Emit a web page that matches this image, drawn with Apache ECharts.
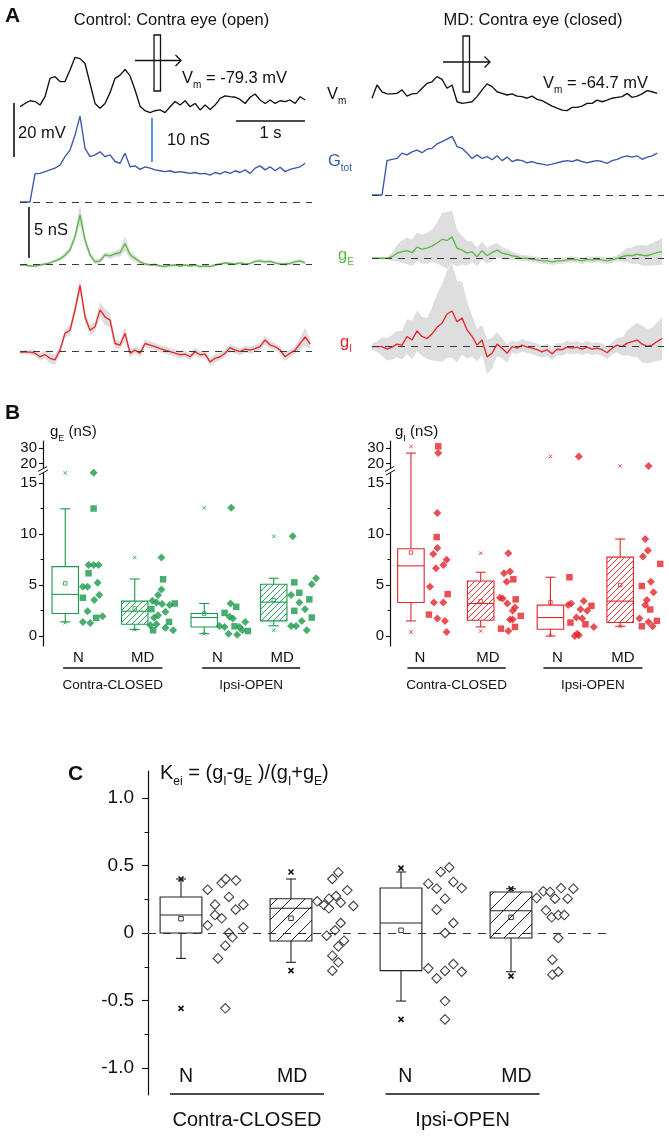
<!DOCTYPE html>
<html><head><meta charset="utf-8">
<script src="https://cdn.jsdelivr.net/npm/echarts@6.0.0/dist/echarts.min.js"></script>
<style>html,body{margin:0;padding:0;background:#fff;}#chart{width:669px;height:1136px;}</style>
</head><body><div id="chart"></div>
<script>
// ================= DATA =================
// Panel A traces, one sample every DT seconds
const DT = 0.0725;
// Control (contra eye open)
const vmControl = [0,1.2,2.2,1.9,0.6,3.7,10.5,11.1,9.3,9.3,13.6,18.3,17.8,16,8.6,1.2,-0.6,1.2,5.2,10.5,11.7,13.8,11.4,6.2,0.2,-1.5,-2.2,-1.5,-1.2,-2.2,0,1.9,0.6,2.2,0,1.2,-1.2,0.6,-1,0.6,3.1,4,3.7,3.5,2.7,1.2,3.5,4.7,2.5,1.2,2.5,1.2,2.2,1.9,2.5,1.2,3.7,2.5];
const gtotControl = [0,0,0,6.4,6.5,6.9,7.3,7.7,8.4,10.3,11.8,15.2,19.5,12.2,10.3,10.7,11.4,10.3,10.7,9.2,8.8,11.1,8.0,8.2,7.4,8.0,7.7,7.3,7.1,6.9,7.1,6.7,6.9,6.7,6.5,6.7,6.4,6.5,6.1,6.7,6.4,6.9,6.5,7.1,6.7,7.3,6.5,7.7,8.2,7.3,8.0,7.1,7.9,6.9,7.4,7.7,8.0,8.8];
const gEControl = [-0.1,-0.1,-0.2,-0.2,-0.1,0,0.1,0.3,0.5,0.85,1.4,2.7,4.8,2.35,0.9,0.2,0.3,0.9,0.8,1.0,1.1,2.0,0.9,0.55,0.2,0,-0.1,-0.05,-0.2,-0.25,-0.15,-0.1,-0.2,-0.1,-0.2,-0.1,-0.25,-0.2,-0.25,-0.1,0,0.1,0.05,0,0.1,0,0.05,0.25,0.3,0.2,0.25,0.1,0,0,0.05,0.2,0.3,0.1];
const gEControlSD = [0.1,0.1,0.1,0.1,0.1,0.1,0.15,0.15,0.2,0.25,0.3,0.45,1.0,0.6,0.3,0.25,0.25,0.25,0.3,0.3,0.4,0.7,0.4,0.3,0.2,0.12,0.12,0.12,0.12,0.12,0.12,0.12,0.12,0.12,0.12,0.12,0.12,0.12,0.12,0.12,0.12,0.12,0.12,0.12,0.12,0.12,0.12,0.15,0.18,0.18,0.18,0.15,0.15,0.15,0.15,0.18,0.18,0.15];
const gIControl = [-0.05,-0.05,-0.05,-0.15,-0.5,-0.3,-0.65,-0.8,0.15,1.8,2.1,4.1,6.5,3.4,2.1,2.45,4.1,3.4,3.1,0.8,0.65,1.8,-0.15,0.15,-0.15,0.8,0.65,0.5,0.3,0.15,0,-0.15,-0.3,-0.25,-0.5,0,-0.3,-0.25,-1.0,-0.65,-0.5,-0.15,0.4,0.15,0,0.25,0.15,0.3,0.5,1.15,0.65,0.5,0.15,-0.5,-0.15,0.15,0.8,1.45,0.75];
const gIControlSD = [0.15,0.2,0.25,0.3,0.4,0.4,0.5,0.5,0.4,0.4,0.5,0.6,0.7,0.6,0.5,0.5,0.8,0.8,0.7,0.5,0.4,0.7,0.4,0.35,0.35,0.4,0.35,0.35,0.35,0.35,0.35,0.35,0.35,0.35,0.35,0.4,0.35,0.35,0.4,0.4,0.35,0.35,0.35,0.35,0.35,0.35,0.35,0.35,0.35,0.45,0.35,0.35,0.35,0.45,0.35,0.35,0.6,0.9,0.5];
// MD (contra eye closed)
const vmMD = [-1.2,3.7,1.2,0.4,0.4,0.6,1.9,-0.4,0.4,0.6,2.5,4.3,4.9,6.8,5.8,2.5,3.7,-2.5,-3.1,-2.8,-2.5,-0.6,1.9,4.1,3.1,1.2,0.6,0,0.4,-0.4,-0.6,-1.2,-0.4,-1.6,-2.1,-3.1,-4.1,-4.9,-5.6,-5.8,-4.6,-4.6,-4.1,-3.1,-3.1,-1.9,-2.5,-1.9,-1.2,-0.9,-0.6,0.6,-0.9,-0.4,0.4,1.6,1.2,0.6];
const gtotMD = [0,0,0,7.8,8.1,8.3,9.5,9.1,9.8,10.2,9.6,10.4,10.6,11.6,12.1,12.7,13.3,11.0,10.6,9.5,8.3,9.1,8.3,8.7,8.0,8.9,7.8,8.6,7.6,8.0,7.8,7.3,7.6,7.2,7.0,6.8,7.0,7.3,7.6,7.8,7.6,8.0,7.6,7.3,7.6,7.8,7.6,7.2,7.8,8.1,8.6,8.9,8.6,8.9,8.1,8.6,8.9,9.5];
const gEMD = [0,0,0,0,0.15,0.5,0.65,0.75,0.55,1.1,0.9,1.0,1.2,1.5,1.85,1.75,2.1,1.0,0.8,0.5,0.65,0.15,0.75,0.25,0.55,0.8,0.5,0.4,0.25,0.15,0,0,-0.1,-0.15,-0.25,-0.25,-0.35,-0.25,-0.25,-0.15,-0.1,-0.15,-0.25,-0.1,-0.15,-0.1,-0.15,-0.25,-0.15,0,0.15,0.3,0.25,0.4,0.3,0.25,0.4,0.55,0.65];
const gEMDSD = [0.1,0.1,0.1,0.1,0.4,0.8,1.1,1.3,1.3,1.4,1.4,1.5,1.6,2.0,2.6,2.8,2.6,1.8,1.4,1.2,1.0,0.9,0.9,0.8,0.8,0.7,0.6,0.5,0.4,0.35,0.3,0.3,0.3,0.3,0.3,0.3,0.3,0.3,0.3,0.3,0.3,0.3,0.3,0.3,0.3,0.3,0.3,0.3,0.3,0.3,0.5,0.7,0.8,0.9,1.0,1.0,1.1,1.2,1.3];
const gIMD = [0,0,0,-0.25,-0.05,0.25,0.15,1.0,0.65,1.55,1.0,0.8,1.25,1.9,2.3,3.2,3.5,2.45,2.8,1.65,1.0,0.15,0.65,-1.0,-0.65,0.25,-0.15,-0.65,0,-0.15,0.15,-0.05,-0.15,-0.3,-0.5,-0.3,-0.7,-0.25,-0.3,-0.05,-0.15,-0.05,-0.25,-0.05,-0.25,-0.15,-0.3,-0.6,-0.15,0.15,0,0.35,0.5,0.65,0.25,0.05,0.15,0.5,0.8];
const gIMDSD = [0.3,0.5,0.9,1.1,1.2,1.3,1.4,1.7,1.9,2.0,1.9,2.0,2.6,3.3,3.8,4.3,4.6,4.0,3.6,2.8,2.0,1.6,1.5,1.7,1.5,1.2,1.0,0.9,0.6,0.6,0.6,0.6,0.6,0.6,0.6,0.6,0.6,0.6,0.6,0.6,0.6,0.6,0.6,0.6,0.6,0.6,0.6,0.6,0.6,0.7,0.9,1.2,1.5,1.7,1.8,1.7,1.7,1.9,2.1];

// Panel B / C categories
const groupNames = ['Contra-CLOSED', 'Ipsi-OPEN'];
const condLabels = ['N', 'MD', 'N', 'MD'];
const gTickValues = [0, 5, 10, 15, 20, 30];
const keiTickValues = [-1, -0.5, 0, 0.5, 1];

// Panel B: gE (nS)  box = [whisker low, Q1, median, Q3, whisker high]
const gE_box = [[1.38,2.2,4.08,6.8,12.47],[0.63,1.15,2.43,3.42,5.59],[0.23,0.89,1.81,2.2,3.19],[1.0,1.48,3.32,5.07,5.66]];
const gE_mean = [5.16,2.7,2.2,3.5];
const gE_p1 = [1.3,0.6,0.2,0.56];
const gE_p99 = [16.0,7.7,12.57,9.77];
// individual cells [x jitter, value]
const gE_dia = [
 [[0.408,16.0],[0.336,6.97],[0.408,6.97],[0.48,6.97],[0.254,4.84],[0.32,4.84],[0.465,5.23],[0.417,3.52],[0.489,4.01],[0.32,2.43],[0.254,1.38],[0.36,1.28],[0.537,1.94]],
 [[0.384,7.7],[0.384,4.57],[0.336,4.01],[0.254,3.45],[0.312,3.29],[0.393,3.13],[0.504,3.03],[0.278,1.78],[0.336,2.04],[0.441,2.37],[0.225,1.05],[0.312,1.15],[0.441,0.82],[0.552,0.56]],
 [[0.388,12.57],[0.378,3.19],[0.364,1.88],[0.412,1.71],[0.22,0.99],[0.292,0.89],[0.35,0.23],[0.474,0.13],[0.508,0.89],[0.59,1.38],[0.547,0.56]],
 [[0.273,9.77],[0.609,5.66],[0.547,5.07],[0.249,4.01],[0.368,3.29],[0.45,2.63],[0.403,1.48],[0.249,0.99],[0.321,0.99],[0.475,0.56]]
];
const gE_sq = [
 [[0.408,12.5],[0.336,6.15],[0.254,3.75],[0.446,1.78]],
 [[0.408,5.56],[0.576,3.19],[0.24,2.63],[0.494,1.38],[0.264,0.56]],
 [[0.292,2.27],[0.46,2.86],[0.436,0.95],[0.628,0.49]],
 [[0.296,5.26],[0.368,4.24],[0.512,3.59],[0.296,2.47],[0.547,1.81]]
];
// Panel B: gI (nS)
const gI_box = [[1.48,3.29,6.88,8.55,26.9],[0.89,1.55,3.19,5.39,6.25],[0.0,0.66,1.81,3.03,5.76],[0.95,1.32,3.42,7.73,9.51]];
const gI_mean = [8.19,3.4,3.3,5.0];
const gI_p1 = [0.39,0.49,0.07,0.95];
const gI_p99 = [31.3,8.12,24.7,18.5];
const gI_dia = [
 [[0.392,26.9],[0.378,12.07],[0.378,8.62],[0.32,8.03],[0.359,6.64],[0.512,7.47],[0.464,6.97],[0.273,4.84],[0.33,3.29],[0.464,3.29],[0.378,1.71],[0.488,1.48],[0.512,0.39]],
 [[0.396,8.12],[0.334,6.15],[0.42,6.32],[0.373,5.33],[0.277,3.75],[0.316,3.68],[0.382,3.19],[0.492,2.8],[0.459,2.47],[0.42,1.61],[0.459,1.61],[0.396,0.49]],
 [[0.407,24.7],[0.254,3.03],[0.297,3.19],[0.478,3.42],[0.431,2.63],[0.527,2.47],[0.373,1.81],[0.455,1.71],[0.622,0.89],[0.383,0.23],[0.349,0.0],[0.407,0.07]],
 [[0.407,18.5],[0.359,9.51],[0.397,8.39],[0.326,7.8],[0.44,5.33],[0.478,4.28],[0.383,3.52],[0.359,3.03],[0.277,1.71],[0.407,1.38],[0.464,0.95]]
];
const gI_sq = [
 [[0.392,31.3],[0.369,9.7],[0.527,4.11],[0.258,2.1]],
 [[0.468,5.56],[0.502,3.59],[0.574,1.97],[0.291,0.72],[0.492,0.89]],
 [[0.273,5.76],[0.588,2.96],[0.287,1.32],[0.502,1.15]],
 [[0.574,7.07],[0.311,4.9],[0.431,2.6],[0.526,1.48],[0.311,0.95]]
];
// Panel C: Kei = (gI-gE)/(gI+gE)
const kei_box = [[-0.188,0,0.133,0.267,0.40],[-0.217,-0.059,0.183,0.254,0.40],[-0.504,-0.279,0.074,0.333,0.452],[-0.287,-0.037,0.165,0.304,0.328]];
const kei_mean = [0.106,0.109,0.02,0.116];
const kei_p1 = [-0.558,-0.279,-0.64,-0.319];
const kei_p99 = [0.40,0.452,0.481,0.328];
const kei_pts = [
 [[0.242,0.321],[0.309,0.21],[0.37,0.37],[0.406,0.40],[0.5,0.39],[0.436,0.267],[0.309,0.133],[0.37,0.109],[0.497,0.173],[0.567,0.21],[0.242,0.057],[0.567,0.042],[0.436,0.0],[0.467,-0.032],[0.403,-0.094],[0.336,-0.188],[0.403,-0.558]],
 [[0.239,0.235],[0.3,0.207],[0.345,0.254],[0.345,0.183],[0.376,0.40],[0.43,0.449],[0.409,0.274],[0.452,0.225],[0.512,0.316],[0.567,0.2],[0.452,0.074],[0.4,0.02],[0.324,-0.02],[0.482,-0.057],[0.43,-0.099],[0.376,-0.168],[0.43,-0.217],[0.376,-0.279]],
 [[0.248,0.365],[0.324,0.328],[0.361,0.452],[0.439,0.486],[0.476,0.378],[0.552,0.333],[0.4,0.254],[0.324,0.173],[0.476,0.074],[0.4,0.0],[0.248,-0.262],[0.324,-0.336],[0.4,-0.281],[0.476,-0.23],[0.552,-0.287],[0.4,-0.504],[0.4,-0.64]],
 [[0.233,0.259],[0.294,0.309],[0.355,0.304],[0.4,0.254],[0.455,0.333],[0.515,0.254],[0.567,0.328],[0.318,0.168],[0.37,0.116],[0.43,0.133],[0.485,0.133],[0.43,-0.037],[0.376,-0.198],[0.376,-0.309],[0.43,-0.287]]
];

// ================= CHART =================
const FONT = "'Liberation Sans', Arial, Helvetica, sans-serif";
const INK = '#111';
const COL = {vm:'#111', gtot:'#3b57a7', gE:'#5cb947', gI:'#e8262b', band:'#dedede', bGreen:'#1a9a4b', bRed:'#e3242b', bar:'#2b7bd0'};
const grids = [], xAxes = [], yAxes = [], series = [], graphics = [];

function addGrid(rect, xa, ya) {
  grids.push(rect);
  const gi = grids.length - 1;
  xAxes.push(Object.assign({gridIndex: gi}, xa));
  yAxes.push(Object.assign({gridIndex: gi}, ya));
  return {gi, xi: xAxes.length - 1, yi: yAxes.length - 1};
}
const hiddenAx = (min, max) => ({type:'value', min, max, show:false, splitLine:{show:false}});

// ---------- Panel A ----------
const PX_PER_S = 69, TR_W = 292, T_MAX = TR_W / PX_PER_S;
const trAx = (left, top, height, min, max) => addGrid({left, top, width:TR_W, height}, hiddenAx(0, T_MAX), hiddenAx(min, max));
const aVmL = trAx(20, 50, 70, -4.93, 21);
const aGtL = trAx(20, 110, 100, -1.82, 20.9);
const aGeL = trAx(20, 205, 70, -1.08, 5.78);
const aGiL = trAx(20, 275, 95, -1.80, 7.52);
const aVmR = trAx(372, 50, 70, -9.26, 16.67);
const aGtR = trAx(372, 110, 100, -3.41, 19.3);
const aGeR = trAx(372, 205, 70, -1.64, 5.23);
const aGiR = trAx(372, 270, 100, -2.29, 7.52);

const baseline = {silent:true, symbol:['none','none'], animation:false, label:{show:false},
  lineStyle:{color:'#3a3a3a', type:[7,6], width:1}, data:[{yAxis:0}]};
function traceSeries(ax, vals, color, withBase) {
  const s = {type:'line', xAxisIndex:ax.xi, yAxisIndex:ax.yi, data:vals.map((v,i)=>[i*DT, v]),
    showSymbol:false, symbol:'none', clip:false, silent:true, z:3, lineStyle:{color, width:1.35}};
  if (withBase) s.markLine = baseline;
  return s;
}
function bandSeries(ax, vals, sd) {
  return {type:'custom', xAxisIndex:ax.xi, yAxisIndex:ax.yi, clip:false, silent:true, z:1, data:[[0,0]],
    renderItem(params, api) {
      const pts = [];
      for (let i = 0; i < vals.length; i++) pts.push(api.coord([i*DT, vals[i] + sd[i]]));
      for (let i = vals.length - 1; i >= 0; i--) pts.push(api.coord([i*DT, vals[i] - sd[i]]));
      return {type:'polygon', shape:{points:pts}, style:{fill:COL.band}};
    }};
}
function scaleBar(ax, p1, p2, color, text, dx, dy, align) {
  return {type:'custom', xAxisIndex:ax.xi, yAxisIndex:ax.yi, clip:false, silent:true, z:5,
    data:[[p1[0], p1[1], p2[0], p2[1]]],
    renderItem(params, api) {
      const a = api.coord([api.value(0), api.value(1)]), b = api.coord([api.value(2), api.value(3)]);
      const mx = (a[0]+b[0])/2, my = (a[1]+b[1])/2;
      return {type:'group', children:[
        {type:'line', shape:{x1:a[0], y1:a[1], x2:b[0], y2:b[1]}, style:{stroke:color, lineWidth:1.6}},
        {type:'text', style:{text, x:mx+dx, y:my+dy, font:`16.5px ${FONT}`, fill:INK,
          textAlign:align, align, textVerticalAlign:'middle', verticalAlign:'middle'}}
      ]};
    }};
}

series.push(bandSeries(aGeL, gEControl, gEControlSD), bandSeries(aGiL, gIControl, gIControlSD));
series.push(bandSeries(aGeR, gEMD, gEMDSD), bandSeries(aGiR, gIMD, gIMDSD));
series.push(traceSeries(aVmL, vmControl, COL.vm, false), traceSeries(aGtL, gtotControl, COL.gtot, true),
  traceSeries(aGeL, gEControl, COL.gE, true), traceSeries(aGiL, gIControl, COL.gI, true));
series.push(traceSeries(aVmR, vmMD, COL.vm, false), traceSeries(aGtR, gtotMD, COL.gtot, true),
  traceSeries(aGeR, gEMD, COL.gE, true), traceSeries(aGiR, gIMD, COL.gI, true));
// calibration bars (20 mV, 10 nS, 1 s, 5 nS)
series.push(scaleBar(aVmL, [-0.087, 1.37], [-0.087, 1.37-20], INK, '20 mV', 4, 3, 'left'));
series.push(scaleBar(aGtL, [1.913, 9.09], [1.913, 9.09+10], COL.bar, '10 nS', 15, 0, 'left'));
series.push(scaleBar(aVmL, [3.13, -5.3], [3.13+1, -5.3], INK, '1 s', 0, 12, 'center'));
series.push(scaleBar(aGeL, [0.13, 0.59], [0.13, 0.59+5], INK, '5 nS', 5, -2, 'left'));

// ---------- Panels B & C helpers ----------
function hatch(color, s, lw) {
  const c = document.createElement('canvas'); c.width = s; c.height = s;
  const g = c.getContext('2d'); g.strokeStyle = color; g.lineWidth = lw;
  g.beginPath();
  g.moveTo(0, s); g.lineTo(s, 0);
  g.moveTo(-s/2, s/2); g.lineTo(s/2, -s/2);
  g.moveTo(s/2, s*1.5); g.lineTo(s*1.5, s/2);
  g.stroke();
  return {image:c, repeat:'repeat'};
}
function boxSeries(ax, rows, st) {
  return {type:'custom', xAxisIndex:ax.xi, yAxisIndex:ax.yi, silent:true, z:2, clip:false, data:rows,
    renderItem(params, api) {
      const pos = api.value(0);
      const v = k => api.value(k);
      const tl = api.coord([pos - st.hw, v(4)]), br = api.coord([pos + st.hw, v(2)]);
      const yOf = y => api.coord([pos, y])[1];
      const cx = api.coord([pos, v(3)])[0];
      const yMed = yOf(v(3)), yLo = yOf(v(1)), yHi = yOf(v(5)), yMean = yOf(v(6)), yP1 = yOf(v(7)), yP99 = yOf(v(8));
      const ls = {stroke:st.color, lineWidth:st.lw};
      const xs = {stroke:st.xColor || st.color, lineWidth:st.xLw};
      const line = (x1,y1,x2,y2,s) => ({type:'line', shape:{x1,y1,x2,y2}, style:s || ls});
      const c = st.cap/2, m = st.mean/2, x = st.x/2;
      return {type:'group', children:[
        {type:'rect', shape:{x:tl[0], y:tl[1], width:br[0]-tl[0], height:br[1]-tl[1]},
          style:{fill:(Math.round(pos) % 2 === 1) ? st.pattern : 'none', stroke:st.color, lineWidth:st.lw}},
        line(tl[0], yMed, br[0], yMed),
        line(cx, tl[1], cx, yHi), line(cx-c, yHi, cx+c, yHi),
        line(cx, br[1], cx, yLo), line(cx-c, yLo, cx+c, yLo),
        {type:'rect', shape:{x:cx-m, y:yMean-m, width:2*m, height:2*m}, style:{fill:'none', stroke:st.color, lineWidth:st.meanLw}},
        line(cx-x, yP1-x, cx+x, yP1+x, xs), line(cx-x, yP1+x, cx+x, yP1-x, xs),
        line(cx-x, yP99-x, cx+x, yP99+x, xs), line(cx-x, yP99+x, cx+x, yP99-x, xs)
      ]};
    }};
}
function ptsSeries(ax, groups, map, symbol, size, style) {
  const data = [];
  groups.forEach((g, pos) => g.forEach(([j, v]) => data.push([pos + j, map(v)])));
  return {type:'scatter', xAxisIndex:ax.xi, yAxisIndex:ax.yi, data, symbol, symbolSize:size, itemStyle:style, silent:true, z:4};
}
function groupSeries(ax, segs, yBase, lineOff, textOff, fontSize) {
  return {type:'custom', xAxisIndex:ax.xi, yAxisIndex:ax.yi, silent:true, clip:false, z:3,
    data:segs.map((s, i) => [s[0], s[1], i]),
    renderItem(params, api) {
      const a = api.coord([api.value(0), yBase]), b = api.coord([api.value(1), yBase]);
      return {type:'group', children:[
        {type:'line', shape:{x1:a[0], y1:a[1]+lineOff, x2:b[0], y2:b[1]+lineOff}, style:{stroke:INK, lineWidth:1.3}},
        {type:'text', style:{text:groupNames[api.value(2)], x:(a[0]+b[0])/2, y:a[1]+textOff, font:`${fontSize}px ${FONT}`, fill:INK,
          textAlign:'center', align:'center', textVerticalAlign:'middle', verticalAlign:'middle'}}
      ]};
    }};
}
function breakSeries(ax, xAt, yAt) {
  return {type:'custom', xAxisIndex:ax.xi, yAxisIndex:ax.yi, silent:true, clip:false, z:6, data:[[xAt, yAt]],
    renderItem(params, api) {
      const p = api.coord([api.value(0), api.value(1)]);
      return {type:'group', children:[
        {type:'rect', shape:{x:p[0]-2, y:p[1]-3, width:4, height:5}, style:{fill:'#fff'}},
        {type:'line', shape:{x1:p[0]-5, y1:p[1]+0.5, x2:p[0]+4, y2:p[1]-4.5}, style:{stroke:INK, lineWidth:1}},
        {type:'line', shape:{x1:p[0]-4, y1:p[1]+4, x2:p[0]+5, y2:p[1]-1}, style:{stroke:INK, lineWidth:1}}
      ]};
    }};
}
const lblFmt = (positions, names) => v => { const i = positions.findIndex(p => Math.abs(p - v) < 1e-6); return i < 0 ? '' : names[i]; };

// ---------- Panel B ----------
const brk = v => v <= 16 ? v : 16.3 + (v - 16) * 0.15;   // broken axis above 16 nS
const gTickDisp = gTickValues.map(brk);
const B_YMIN = -0.98, B_YMAX = 19.12;
function bPanel(left, width, xmin, xmax, labelPos, color, box, mean, p1, p99, dia, sq, segs) {
  const xa = {type:'value', min:xmin, max:xmax, axisLine:{show:false}, axisTick:{show:false}, splitLine:{show:false},
    axisLabel:{customValues:labelPos, formatter:lblFmt(labelPos, condLabels), fontSize:15, fontFamily:FONT, color:INK, margin:4}};
  const ya = {type:'value', min:B_YMIN, max:B_YMAX, splitLine:{show:false},
    axisLine:{show:true, onZero:false, lineStyle:{color:INK, width:1.2}},
    axisTick:{show:true, customValues:gTickDisp, length:4, lineStyle:{color:INK, width:1.1}},
    axisLabel:{customValues:gTickDisp, formatter:lblFmt(gTickDisp, gTickValues.map(String)), fontSize:15, fontFamily:FONT, color:INK, margin:6}};
  const ax = addGrid({left, top:441, width, height:205}, xa, ya);
  yAxes.push({type:'value', gridIndex:ax.gi, min:B_YMIN, max:B_YMAX, position:'left', splitLine:{show:false},
    axisLine:{show:false, onZero:false}, axisLabel:{show:false},
    axisTick:{show:true, customValues:[2.5, 7.5, 12.5], length:2.5, lineStyle:{color:INK, width:1}}});
  const rows = box.map((b, i) => [i, ...b.map(brk), brk(mean[i]), brk(p1[i]), brk(p99[i])]);
  series.push(boxSeries(ax, rows, {color, hw:0.19, lw:1.1, cap:10, mean:3.5, meanLw:0.8, x:3.5, xLw:0.8, pattern:hatch(color, 6, 0.9)}));
  series.push(ptsSeries(ax, dia, brk, 'diamond', 8, {color}));
  series.push(ptsSeries(ax, sq, brk, 'rect', 6.5, {color}));
  series.push(groupSeries(ax, segs, B_YMIN, 22, 39, 13.5));
  series.push(breakSeries(ax, xmin, 16.18));
}
bPanel(43, 278, -0.32, 3.68, [0.19, 1.115, 2.19, 3.12], COL.bGreen, gE_box, gE_mean, gE_p1, gE_p99, gE_dia, gE_sq, [[-0.03, 1.4], [1.97, 3.38]]);
bPanel(390, 279, -0.3, 3.7, [0.13, 1.105, 2.1, 3.04], COL.bRed, gI_box, gI_mean, gI_p1, gI_p99, gI_dia, gI_sq, [[-0.05, 1.36], [1.9, 3.32]]);

// ---------- Panel C ----------
(function () {
  const labelPos = [0.045, 1.01, 2.04, 3.05];
  const xa = {type:'value', min:-0.3, max:3.9, axisLine:{show:false}, axisTick:{show:false}, splitLine:{show:false},
    axisLabel:{inside:true, customValues:labelPos, formatter:lblFmt(labelPos, condLabels), fontSize:19.5, fontFamily:FONT, color:INK, margin:8}};
  const ya = {type:'value', min:-1.2, max:1.2, splitLine:{show:false},
    axisLine:{show:true, onZero:false, lineStyle:{color:INK, width:1.2}},
    axisTick:{show:true, customValues:keiTickValues, length:6, lineStyle:{color:INK, width:1.1}},
    axisLabel:{customValues:keiTickValues, formatter:v => v === 0 ? '0' : v.toFixed(1), fontSize:19, fontFamily:FONT, color:INK, margin:14}};
  const ax = addGrid({left:148, top:771, width:462, height:324}, xa, ya);
  yAxes.push({type:'value', gridIndex:ax.gi, min:-1.2, max:1.2, position:'left', splitLine:{show:false},
    axisLine:{show:false, onZero:false}, axisLabel:{show:false},
    axisTick:{show:true, customValues:[-0.75, -0.25, 0.25, 0.75], length:3.5, lineStyle:{color:INK, width:1}}});
  const rows = kei_box.map((b, i) => [i, ...b, kei_mean[i], kei_p1[i], kei_p99[i]]);
  series.push(boxSeries(ax, rows, {color:'#222', hw:0.19, lw:1.1, cap:10, mean:4.5, meanLw:0.9, x:5, xLw:1.6, xColor:INK, pattern:hatch('#222', 14, 1)}));
  const pts = ptsSeries(ax, kei_pts, v => v, 'diamond', 9.5, {color:'#fff', borderColor:INK, borderWidth:1.1});
  pts.markLine = {silent:true, symbol:['none','none'], label:{show:false}, lineStyle:{color:'#333', type:[8,7], width:1}, data:[{yAxis:0}]};
  series.push(pts);
  series.push(groupSeries(ax, [[-0.1, 1.3], [1.86, 3.26]], -1.2, -1, 25, 20));
})();

// ---------- text & icons ----------
function txt(text, x, y, size, o = {}) {
  const st = {text, x, y, font:`${o.bold ? 'bold ' : ''}${size}px ${FONT}`, fill:o.color || INK,
    textAlign:o.align || 'left', align:o.align || 'left', textVerticalAlign:'middle', verticalAlign:'middle'};
  if (o.sub) {
    const L = Math.round(size * 1.45), c = o.color || INK;
    st.rich = {m:{fontSize:size, fontFamily:FONT, fill:c, color:c, verticalAlign:'middle', lineHeight:L},
               s:{fontSize:Math.round(size * 0.58), fontFamily:FONT, fill:c, color:c, verticalAlign:'bottom', lineHeight:L}};
  }
  return {type:'text', silent:true, z:100, style:st};
}
graphics.push(
  txt('A', 5, 16, 21, {bold:true}),
  txt('Control: Contra eye (open)', 171.5, 20, 16.5, {align:'center'}),
  txt('MD: Contra eye (closed)', 533, 20, 16.5, {align:'center'}),
  txt('{m|V}{s|m}{m| = -79.3 mV}', 182, 78.5, 16.5, {sub:true}),
  txt('{m|V}{s|m}{m| = -64.7 mV}', 543, 83, 16.5, {sub:true}),
  txt('{m|V}{s|m}', 327, 94, 16.5, {sub:true}),
  txt('{m|G}{s|tot}', 328, 161, 16.5, {sub:true, color:COL.gtot}),
  txt('{m|g}{s|E}', 338, 255, 16.5, {sub:true, color:COL.gE}),
  txt('{m|g}{s|I}', 340, 342, 16.5, {sub:true, color:COL.gI}),
  txt('B', 5, 413, 21, {bold:true}),
  txt('{m|g}{s|E}{m| (nS)}', 50, 432, 15, {sub:true}),
  txt('{m|g}{s|I}{m| (nS)}', 395, 432, 15, {sub:true}),
  txt('C', 68, 774, 21, {bold:true}),
  txt('{m|K}{s|ei}{m| = (g}{s|I}{m|-g}{s|E}{m| )/(g}{s|I}{m|+g}{s|E}{m|)}', 160, 773, 20, {sub:true})
);
function stimIcon(rx, ry, lx1, lx2, ly) {
  const s = {stroke:INK, lineWidth:1.3, fill:'none'};
  return [
    {type:'rect', silent:true, z:50, shape:{x:rx, y:ry, width:6.5, height:56}, style:Object.assign({}, s)},
    {type:'line', silent:true, z:50, shape:{x1:lx1, y1:ly, x2:lx2, y2:ly}, style:Object.assign({}, s)},
    {type:'polyline', silent:true, z:50, shape:{points:[[lx2-5.5, ly-5.5], [lx2, ly], [lx2-5.5, ly+5.5]]}, style:Object.assign({}, s)}
  ];
}
graphics.push(...stimIcon(154, 35, 135, 181, 60.5), ...stimIcon(463, 36, 443, 490, 62));

const chart = echarts.init(document.getElementById('chart'), null, {renderer:'canvas'});
chart.setOption({animation:false, textStyle:{fontFamily:FONT}, grid:grids, xAxis:xAxes, yAxis:yAxes, series, graphic:graphics});
</script>
</body></html>
